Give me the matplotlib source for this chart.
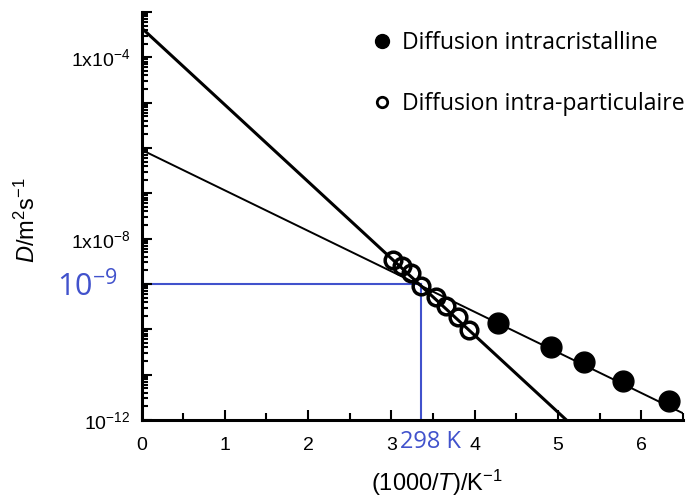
import matplotlib
matplotlib.use('Agg')
import matplotlib.pyplot as plt
import numpy as np
from matplotlib.lines import Line2D
from matplotlib.ticker import LogLocator, FixedLocator, FuncFormatter, MultipleLocator, NullFormatter
from matplotlib.transforms import blended_transform_factory

plt.rcParams['font.family'] = ['Liberation Sans', 'DejaVu Sans']
plt.rcParams['mathtext.fontset'] = 'custom'
plt.rcParams['mathtext.rm'] = 'Liberation Sans'
plt.rcParams['mathtext.it'] = 'Liberation Sans:italic'

# ---- data ----
x_intra_part = [3.02, 3.13, 3.24, 3.36, 3.53, 3.66, 3.80, 3.93]
logD_intra_part = [-8.47, -8.60, -8.75, -9.04, -9.28, -9.48, -9.73, -10.01]
x_intra_crist = [4.28, 4.92, 5.31, 5.78, 6.33]
logD_intra_crist = [-9.85, -10.40, -10.73, -11.15, -11.58]
# Arrhenius fits: log10 D = a + b * (1000/T)
fit_part = (-3.35, -1.696)
fit_crist = (-6.04, -0.894)
T_ref = 298
D_ref = 1e-9
x_ticks = [0, 1, 2, 3, 4, 5, 6]
y_labelled = [-12, -8, -4]
label_crist = 'Diffusion intracristalline'
label_part = 'Diffusion intra-particulaire'

blue = '#4152CC'
W, H = 693, 497
fig = plt.figure(figsize=(W / 100, H / 100), dpi=100)
ax = fig.add_axes([141.5 / W, 1 - 420 / H, (683 - 141.5) / W, (420 - 12) / H])

xx = np.linspace(0, 6.5, 300)
ax.plot(xx, 10 ** (fit_part[0] + fit_part[1] * xx), color='black', lw=2.2, zorder=2)
ax.plot(xx, 10 ** (fit_crist[0] + fit_crist[1] * xx), color='black', lw=1.4, zorder=2)

ax.plot(x_intra_part, 10 ** np.array(logD_intra_part), 'o', ms=12, mfc='none', mec='black',
        mew=2.5, zorder=3)
ax.plot(x_intra_crist, 10 ** np.array(logD_intra_crist), 'o', ms=15, mfc='black', mec='black',
        zorder=3)

x_ref = 1000 / T_ref
ax.plot([0, x_ref], [D_ref, D_ref], color=blue, lw=1.5, zorder=1.5)
ax.plot([x_ref, x_ref], [1e-12, D_ref], color=blue, lw=1.5, zorder=1.5)

ax.set_yscale('log')
ax.set_xlim(0, 6.5)
ax.set_ylim(1e-12, 1e-3)

for s in ['top', 'right']:
    ax.spines[s].set_visible(False)
for s in ['left', 'bottom']:
    ax.spines[s].set_linewidth(2.2)

ax.xaxis.set_major_locator(FixedLocator(x_ticks))
ax.xaxis.set_minor_locator(MultipleLocator(0.5))
ax.yaxis.set_major_locator(FixedLocator([10.0 ** k for k in range(-12, -2)]))
ax.yaxis.set_minor_locator(LogLocator(base=10, subs=np.arange(2, 10), numticks=100))
ax.yaxis.set_minor_formatter(NullFormatter())


def yfmt(v, pos):
    k = int(round(np.log10(v)))
    if k not in y_labelled:
        return ''
    if k == -12:
        return r'10$^{\mathregular{%d}}$' % k
    return r'1x10$^{\mathregular{%d}}$' % k


ax.yaxis.set_major_formatter(FuncFormatter(yfmt))
ax.tick_params(axis='both', which='both', direction='in', width=1.5, labelsize=14)
ax.tick_params(axis='x', which='major', length=7.5, pad=12)
ax.tick_params(axis='x', which='minor', length=5)
ax.tick_params(axis='y', which='major', length=7, pad=8)
ax.tick_params(axis='y', which='minor', length=4)

ax.set_xlabel(r'(1000/$\mathit{T}$)/K$^{\mathregular{-1}}$', fontsize=17)
ax.xaxis.set_label_coords((437 - 141.5) / 541.5, (420 - 468) / 408)
ax.set_ylabel(r'$\mathit{D}$/m$^{\mathregular{2}}$s$^{\mathregular{-1}}$', fontsize=17)
ax.yaxis.set_label_coords((40 - 141.5) / 541.5, (420 - 220) / 408)

# blue annotations
ax.annotate(r'10$^{\mathregular{-9}}$', xy=(0, D_ref), xytext=(-17, -9), textcoords='offset points',
            ha='right', va='baseline', color=blue, fontsize=22, family='Open Sans',
            annotation_clip=False)
trans = blended_transform_factory(ax.transData, ax.transAxes)
ax.annotate('298 K', xy=(x_ref, 0), xycoords=trans, xytext=(-15, -7), textcoords='offset points',
            ha='left', va='top', color=blue, fontsize=17, family='Open Sans',
            annotation_clip=False)

handles = [Line2D([], [], ls='none', marker='o', ms=10, mfc='black', mec='black'),
           Line2D([], [], ls='none', marker='o', ms=7.5, mfc='none', mec='black', mew=2)]
leg = ax.legend(handles, [label_crist, label_part], loc='upper left',
                bbox_to_anchor=(370 / W, 1 - 31 / H), bbox_transform=fig.transFigure,
                frameon=False, prop={'family': 'Open Sans', 'size': 16.6},
                labelspacing=1.6, handletextpad=0.4, handlelength=1.0, borderpad=0, borderaxespad=0)

fig.savefig('out.png', dpi=100)
